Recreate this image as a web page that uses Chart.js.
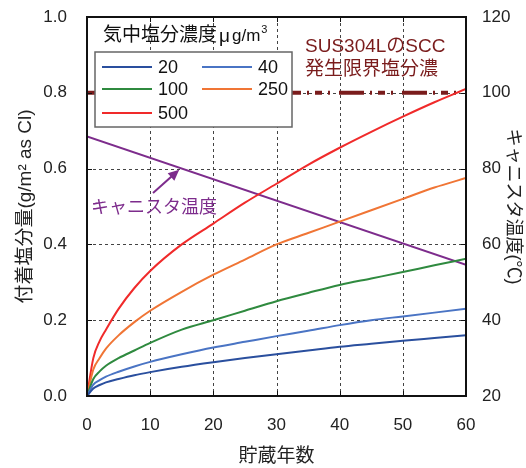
<!DOCTYPE html>
<html><head><meta charset="utf-8">
<script src="https://cdn.jsdelivr.net/npm/chart.js@4/dist/chart.umd.min.js"></script>
<style>html,body{margin:0;padding:0;background:#fff}#wrap{width:526px;height:468px}</style>
</head><body><div id="wrap"><canvas id="c" width="526" height="468"></canvas></div>
<script>
// ---- data ----
const years   = [0, 1, 2, 3, 5, 7.5, 10, 15, 20, 25, 30, 35, 40, 45, 50, 55, 60];
const conc20  = [0, 0.020, 0.029, 0.036, 0.045, 0.055, 0.063, 0.077, 0.089, 0.100, 0.110, 0.120, 0.130, 0.138, 0.146, 0.153, 0.160];
const conc40  = [0, 0.030, 0.042, 0.051, 0.064, 0.078, 0.090, 0.110, 0.128, 0.143, 0.158, 0.172, 0.187, 0.200, 0.210, 0.220, 0.230];
const conc100 = [0, 0.045, 0.065, 0.080, 0.100, 0.120, 0.140, 0.175, 0.200, 0.225, 0.250, 0.272, 0.293, 0.310, 0.327, 0.345, 0.362];
const conc250 = [0, 0.070, 0.100, 0.125, 0.160, 0.195, 0.225, 0.275, 0.320, 0.360, 0.400, 0.430, 0.460, 0.490, 0.520, 0.550, 0.575];
const conc500 = [0, 0.100, 0.145, 0.175, 0.230, 0.285, 0.330, 0.400, 0.455, 0.510, 0.560, 0.610, 0.655, 0.697, 0.737, 0.775, 0.810];
const tempYears = [0, 60];
const canisterTemp = [88.5, 54.6];          // °C (right axis)
const limitYears = [0, 60];
const sccLimit = [0.8, 0.8];                // g/m2 as Cl
const seriesLabels = ['20', '40', '100', '250', '500'];
const xTickValues = [0, 10, 20, 30, 40, 50, 60];
const yTickValues = [0, 0.2, 0.4, 0.6, 0.8, 1.0];
const y2TickValues = [20, 40, 60, 80, 100, 120];

const colors = ['#2a4f9e', '#4a74c4', '#2f8a3f', '#f07535', '#f02a2a'];
const PURPLE = '#7d2c8c';
const DARKRED = '#7a1c1c';
const FONT = "'Liberation Sans', 'Noto Sans CJK JP', sans-serif";

const toPts = (xs, ys) => xs.map((x, i) => ({x, y: ys[i]}));
const concSeries = [conc20, conc40, conc100, conc250, conc500];

const datasets = concSeries.map((s, i) => ({
  label: seriesLabels[i], data: toPts(years, s), borderColor: colors[i],
  borderWidth: 2, pointRadius: 0, cubicInterpolationMode: 'monotone', yAxisID: 'y', fill: false
}));
datasets.push({label: 'limit', data: toPts(limitYears, sccLimit), borderColor: DARKRED, borderWidth: 4,
  borderDash: [25, 6, 2, 6, 7, 6, 2, 9], pointRadius: 0, yAxisID: 'y', order: 10});
datasets.push({label: 'temp', data: toPts(tempYears, canisterTemp), borderColor: PURPLE, borderWidth: 2,
  pointRadius: 0, yAxisID: 'y2'});

const gridPlugin = {
  id: 'gridDash',
  beforeDatasetsDraw(chart) {
    const ctx = chart.ctx, a = chart.chartArea;
    const xs = chart.scales.x, ys = chart.scales.y;
    ctx.save();
    ctx.strokeStyle = '#444'; ctx.lineWidth = 1; ctx.setLineDash([3, 3]);
    xTickValues.slice(1, -1).forEach(v => { const px = Math.round(xs.getPixelForValue(v)) + 0.5;
      ctx.beginPath(); ctx.moveTo(px, a.top); ctx.lineTo(px, a.bottom); ctx.stroke(); });
    yTickValues.slice(1, -1).forEach(v => { const py = Math.round(ys.getPixelForValue(v)) + 0.5;
      ctx.beginPath(); ctx.moveTo(a.left, py); ctx.lineTo(a.right, py); ctx.stroke(); });
    ctx.restore();
  }
};

const overlay = {
  id: 'overlay',
  afterDraw(chart) {
    const ctx = chart.ctx, a = chart.chartArea;
    const xs = chart.scales.x, ys = chart.scales.y, y2 = chart.scales.y2;
    ctx.save();
    // inward tick marks
    ctx.strokeStyle = '#111'; ctx.lineWidth = 1; ctx.setLineDash([]);
    xTickValues.forEach(v => { const px = Math.round(xs.getPixelForValue(v)) + 0.5;
      ctx.beginPath(); ctx.moveTo(px, a.bottom); ctx.lineTo(px, a.bottom - 5);
      ctx.moveTo(px, a.top); ctx.lineTo(px, a.top + 5); ctx.stroke(); });
    yTickValues.forEach(v => { const py = Math.round(ys.getPixelForValue(v)) + 0.5;
      ctx.beginPath(); ctx.moveTo(a.left, py); ctx.lineTo(a.left + 5, py); ctx.stroke(); });
    y2TickValues.forEach(v => { const py = Math.round(y2.getPixelForValue(v)) + 0.5;
      ctx.beginPath(); ctx.moveTo(a.right, py); ctx.lineTo(a.right - 5, py); ctx.stroke(); });
    // frame
    ctx.strokeStyle = '#111'; ctx.lineWidth = 2;
    ctx.strokeRect(a.left, a.top, a.right - a.left, a.bottom - a.top);

    // legend title
    ctx.fillStyle = '#111'; ctx.textBaseline = 'middle'; ctx.textAlign = 'left';
    ctx.font = "19px " + FONT;
    let tx = 103;
    const t1 = '気中塩分濃度';
    ctx.fillText(t1, tx, 36); tx += ctx.measureText(t1).width + 2;
    ctx.font = "19px " + FONT;
    ctx.fillText('μ', tx, 37); tx += ctx.measureText('μ').width + 2;
    ctx.font = "17px " + FONT;
    ctx.fillText('g/m', tx, 36); tx += ctx.measureText('g/m').width + 1;
    ctx.font = "11px " + FONT;
    ctx.fillText('3', tx, 30);

    // legend box
    const bx = 95, by = 52, bw = 197, bh = 75;
    ctx.fillStyle = '#fff'; ctx.fillRect(bx, by, bw, bh);
    ctx.strokeStyle = '#666'; ctx.lineWidth = 1.5; ctx.strokeRect(bx, by, bw, bh);
    const rows = [67, 89, 113];
    ctx.font = "18px " + FONT; ctx.fillStyle = '#111';
    seriesLabels.forEach((lab, i) => {
      const col = i % 2, row = Math.floor(i / 2);
      const lx = 102 + col * 100, ly = rows[row];
      ctx.strokeStyle = colors[i]; ctx.lineWidth = 2;
      ctx.beginPath(); ctx.moveTo(lx, ly); ctx.lineTo(lx + 50, ly); ctx.stroke();
      ctx.fillText(lab, lx + 56, ly + 1);
    });

    // SCC annotation
    ctx.fillStyle = DARKRED; ctx.font = "19px " + FONT; ctx.textAlign = 'left';
    ctx.fillText('SUS304LのSCC', 305, 47);
    ctx.fillText('発生限界塩分濃', 305, 70);

    // canister temperature annotation
    ctx.fillStyle = PURPLE; ctx.font = "18px " + FONT;
    ctx.fillText('キャニスタ温度', 91, 208);
    const tipX = xs.getPixelForValue(14.6), tipY = y2.getPixelForValue(88.5 - 14.6 * (88.5 - 54.6) / 60) + 2;
    const tailX = 153, tailY = 193;
    ctx.strokeStyle = PURPLE; ctx.lineWidth = 2;
    const ang = Math.atan2(tipY - tailY, tipX - tailX);
    const hl = 11;
    ctx.beginPath(); ctx.moveTo(tailX, tailY);
    ctx.lineTo(tipX - hl * 0.8 * Math.cos(ang), tipY - hl * 0.8 * Math.sin(ang)); ctx.stroke();
    ctx.fillStyle = PURPLE;
    ctx.beginPath(); ctx.moveTo(tipX, tipY);
    ctx.lineTo(tipX - hl * Math.cos(ang) + 5 * Math.sin(ang), tipY - hl * Math.sin(ang) - 5 * Math.cos(ang));
    ctx.lineTo(tipX - hl * Math.cos(ang) - 5 * Math.sin(ang), tipY - hl * Math.sin(ang) + 5 * Math.cos(ang));
    ctx.closePath(); ctx.fill();
    ctx.restore();
  }
};

new Chart(document.getElementById('c'), {
  type: 'line',
  data: {datasets},
  plugins: [gridPlugin, overlay],
  options: {
    responsive: false, animation: false, devicePixelRatio: 1,
    layout: {padding: {top: 17, left: 0, right: 0, bottom: 0}},
    plugins: {legend: {display: false}, tooltip: {enabled: false}},
    scales: {
      x: {type: 'linear', min: 0, max: 60,
        afterBuildTicks: s => { s.ticks = xTickValues.map(v => ({value: v})); },
        afterFit: s => { s.height = 72; },
        grid: {display: false, drawTicks: true, tickLength: 17}, border: {display: false},
        ticks: {color: '#222', font: {size: 17, family: FONT}, padding: 2},
        title: {display: true, text: '貯蔵年数', color: '#222', font: {size: 19, family: FONT}, padding: {top: 4, bottom: 0}}},
      y: {type: 'linear', position: 'left', min: 0, max: 1,
        afterBuildTicks: s => { s.ticks = yTickValues.map(v => ({value: v})); },
        afterFit: s => { s.width = 87; },
        grid: {display: false, drawTicks: true, tickLength: 18}, border: {display: false},
        ticks: {color: '#222', font: {size: 17, family: FONT}, padding: 2, callback: v => Number(v).toFixed(1)},
        title: {display: true, text: '付着塩分量(g/m² as Cl)', color: '#222', font: {size: 19, family: FONT}, padding: {top: 14, bottom: 4}}},
      y2: {type: 'linear', position: 'right', min: 20, max: 120,
        afterBuildTicks: s => { s.ticks = y2TickValues.map(v => ({value: v})); },
        afterFit: s => { s.width = 60; },
        grid: {display: false, drawTicks: true, tickLength: 14}, border: {display: false},
        ticks: {color: '#222', font: {size: 17, family: FONT}, padding: 2},
        title: {display: true, text: 'キャニスタ温度(℃)', color: '#222', font: {size: 18, family: FONT}, padding: {top: 2, bottom: 2}}}
    }
  }
});
</script></body></html>
